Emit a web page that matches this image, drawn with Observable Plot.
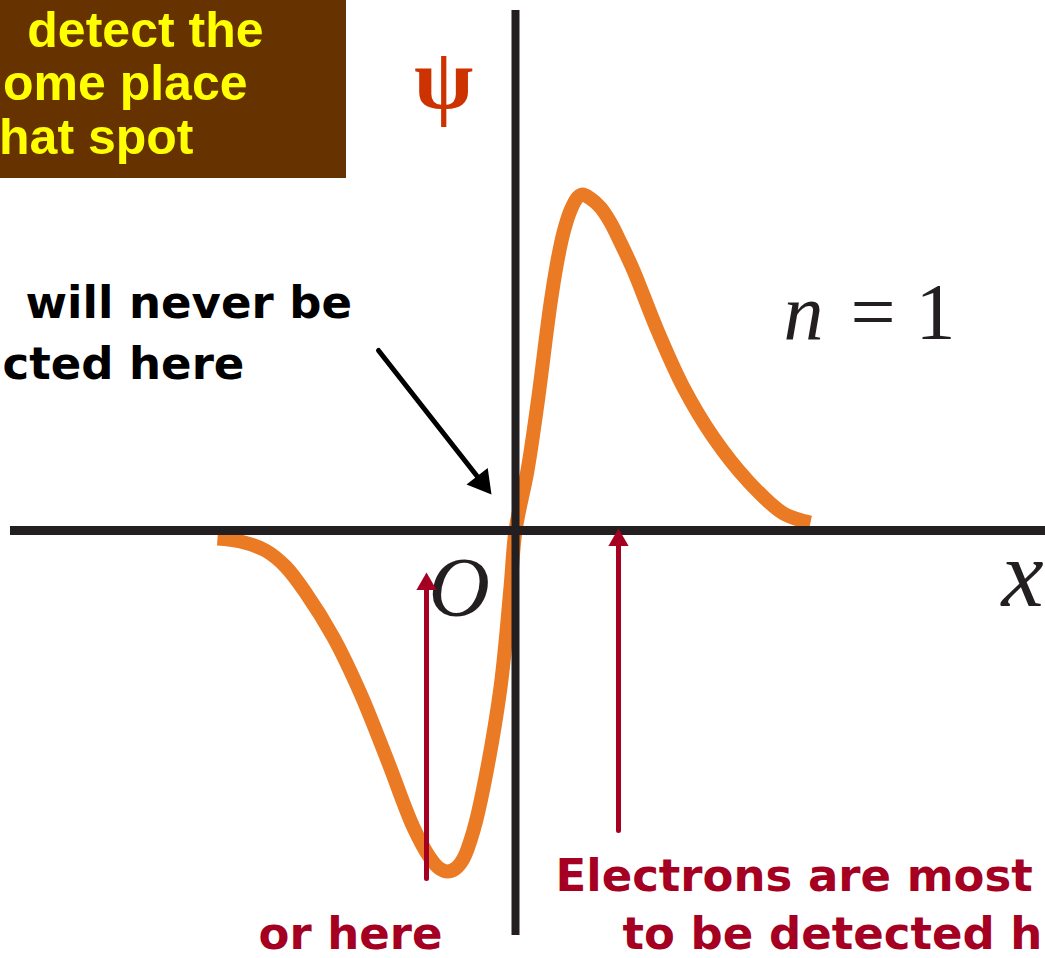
<!DOCTYPE html>
<html><head><meta charset="utf-8">
<script src="https://cdn.jsdelivr.net/npm/d3@7"></script>
<script src="https://cdn.jsdelivr.net/npm/@observablehq/plot@0.6"></script>
<style>html,body{margin:0;padding:0;background:#fff;overflow:hidden}</style>
</head><body><div id="chart"></div>
<script>
// Wavefunction ψ for n = 1 (x and ψ in plot units)
const negX   = [-2.98, -2.75, -2.50, -2.30, -2.10, -1.82, -1.55, -1.28, -1.02, -0.85, -0.76, -0.68, -0.60, -0.52, -0.42, -0.32, -0.15, -0.05];
const negPsi = [-0.08, -0.11, -0.20, -0.36, -0.62, -1.07, -1.63, -2.30, -2.97, -3.28, -3.38, -3.41, -3.38, -3.28, -3.00, -2.57, -1.57, -0.57];
const posX   = [0, 0.12, 0.22, 0.35, 0.42, 0.48, 0.55, 0.62, 0.67, 0.75, 0.85, 0.95, 1.05, 1.18, 1.42, 1.68, 1.98, 2.32, 2.68, 2.95];
const posPsi = [0, 0.60, 1.27, 2.27, 2.70, 2.98, 3.20, 3.33, 3.36, 3.32, 3.23, 3.08, 2.88, 2.60, 2.00, 1.43, 0.93, 0.50, 0.17, 0.08];

// Annotation texts
const boxLines    = ["detect the", "ome place", "hat spot"];
const noteLines   = ["will never be", "cted here"];
const likelyLines = ["Electrons are most", "to be detected h"];
const orLine      = ["or here"];

// Arrows (tail -> tip, plot units)
const arrowTailX = [-1.37, 1.03, -0.89];
const arrowTailY = [1.80, -3.00, -3.48];
const arrowTipX  = [-0.24, 1.03, -0.89];
const arrowTipY  = [0.36, 0.02, -0.42];

const curve = [...negX.map((x, i) => ({x, psi: negPsi[i]})), ...posX.map((x, i) => ({x, psi: posPsi[i]}))];
const arrows = arrowTailX.map((x1, i) => ({x1, y1: arrowTailY[i], x2: arrowTipX[i], y2: arrowTipY[i]}));
const black = arrows.slice(0, 1), red = arrows.slice(1);

const comic = "'Comic Sans MS', 'DejaVu Sans', sans-serif";
const serif = "'Liberation Serif', 'Times New Roman', serif";

const plot = Plot.plot({
  width: 1045, height: 958,
  margin: 0,
  x: {domain: [-5.15, 5.30], axis: null},
  y: {domain: [-4.28, 5.30], axis: null},
  style: {background: "#fff"},
  marks: [
    // brown text box
    Plot.rect([0], {x1: -5.2, x2: -1.69, y1: 3.52, y2: 5.35, fill: "#663300"}),
    Plot.text(boxLines, {
      x: [-2.52, -2.68, -3.22], y: [4.84, 4.31, 3.77], text: d => d,
      textAnchor: "end", lineAnchor: "bottom",
      fontFamily: "'Liberation Sans', Arial, sans-serif", fontWeight: "bold", fontSize: 50, fill: "#ffff00"
    }),
    // ψ curve
    Plot.line(curve, {x: "x", y: "psi", stroke: "#ea7a23", strokeWidth: 14, curve: "catmull-rom", strokeLinecap: "butt", strokeLinejoin: "round"}),
    // axes
    Plot.ruleY([0], {x1: -5.05, x2: 5.35, stroke: "#231f20", strokeWidth: 9}),
    Plot.ruleX([0], {y1: 5.20, y2: -4.05, stroke: "#231f20", strokeWidth: 8}),
    // axis labels
    Plot.text(["ψ"], {x: -0.72, y: 4.23, text: d => d, textAnchor: "middle", lineAnchor: "bottom", fontFamily: serif, fontWeight: "bold", fontSize: 86, fill: "#cc3300"}),
    Plot.text(["n"], {x: 2.68, y: 1.92, text: d => d, textAnchor: "start", lineAnchor: "bottom", fontFamily: serif, fontStyle: "italic", fontSize: 80, fill: "#231f20"}),
    Plot.text(["= 1"], {x: 3.35, y: 1.92, text: d => d, textAnchor: "start", lineAnchor: "bottom", fontFamily: serif, fontSize: 80, fill: "#231f20"}),
    Plot.text(["O"], {x: -0.87, y: -0.85, text: d => d, textAnchor: "start", lineAnchor: "bottom", fontFamily: serif, fontStyle: "italic", fontSize: 85, fill: "#231f20"}),
    Plot.text(["x"], {x: 4.86, y: -0.75, text: d => d, textAnchor: "start", lineAnchor: "bottom", fontFamily: serif, fontStyle: "italic", fontSize: 95, fill: "#231f20"}),
    // arrows
    Plot.arrow(black, {x1: "x1", y1: "y1", x2: "x2", y2: "y2", stroke: "#000", strokeWidth: 5, headLength: 0, insetEnd: 14}),
    Plot.dot(black, {x: "x2", y: "y2", symbol: "triangle", r: 10, fill: "#000", stroke: null, rotate: 142, dx: -9.6, dy: -12.2}),
    Plot.arrow(red, {x1: "x1", y1: "y1", x2: "x2", y2: "y2", stroke: "#a50021", strokeWidth: 5, headLength: 0, insetEnd: 10}),
    Plot.dot(red, {x: "x2", y: "y2", symbol: "triangle", r: 7.5, fill: "#a50021", stroke: null, dy: 11.7}),
    // notes
    Plot.text(noteLines, {
      x: [-4.90, -5.13], y: [2.13, 1.52], text: d => d, textAnchor: "start", lineAnchor: "bottom",
      fontFamily: comic, fontWeight: "bold", fontSize: 45, fill: "#000"
    }),
    Plot.text(likelyLines, {
      x: [0.40, 1.07], y: [-3.60, -4.18], text: d => d, textAnchor: "start", lineAnchor: "bottom",
      fontFamily: comic, fontWeight: "bold", fontSize: 45, fill: "#a50021"
    }),
    Plot.text(orLine, {
      x: [-2.57], y: [-4.18], text: d => d, textAnchor: "start", lineAnchor: "bottom",
      fontFamily: comic, fontWeight: "bold", fontSize: 45, fill: "#a50021"
    })
  ]
});
document.getElementById("chart").appendChild(plot);
</script>
</body></html>
